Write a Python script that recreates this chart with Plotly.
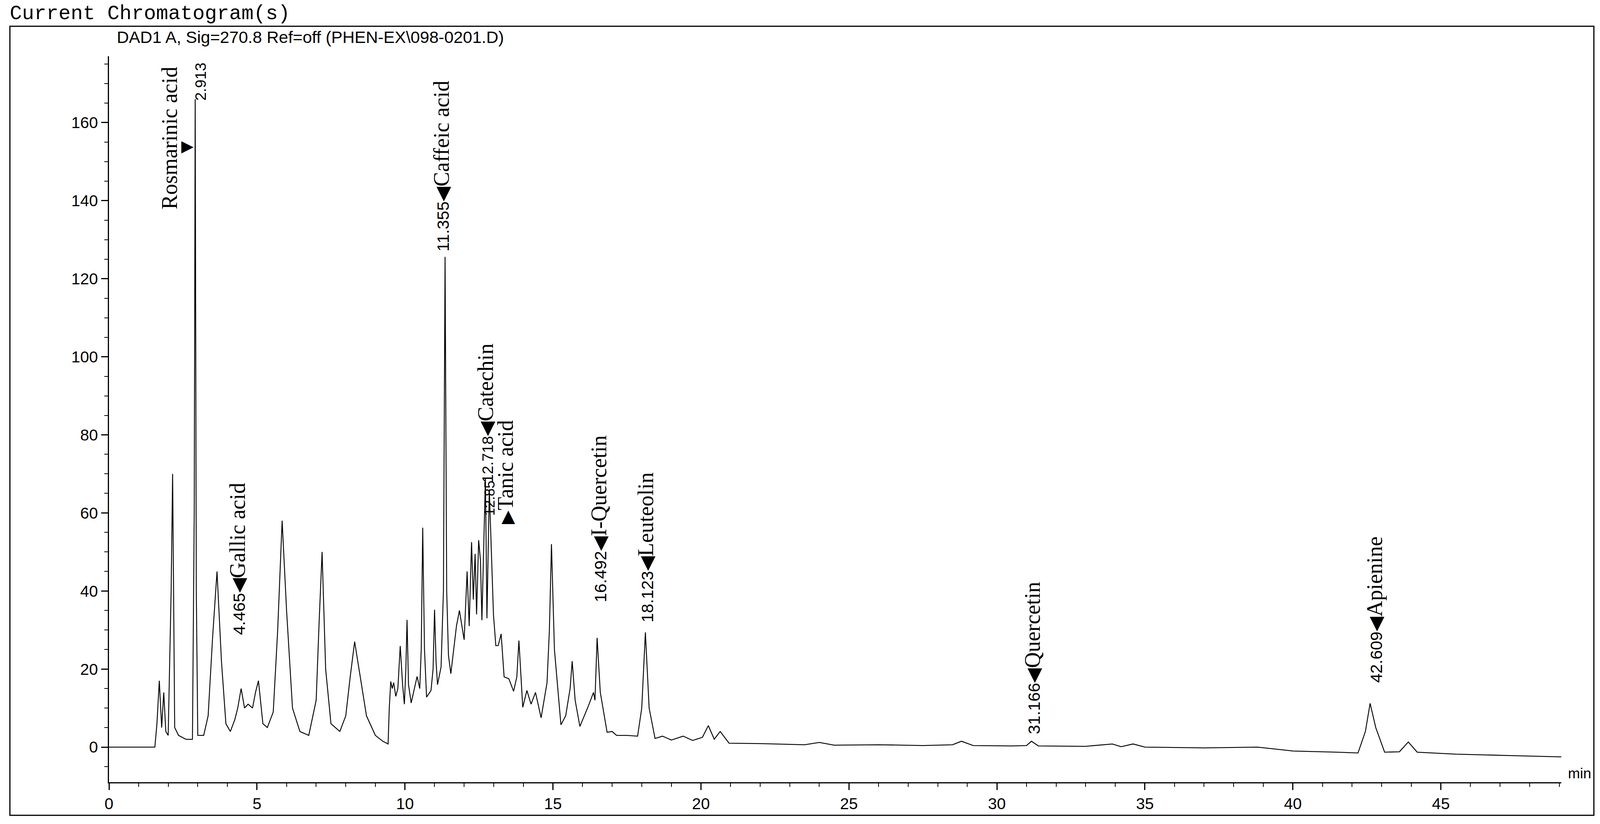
import plotly.graph_objects as go

# retention time (min) and absorbance (mAU)
time_min = [0, 1.55, 1.62, 1.7, 1.78, 1.85, 1.92, 2.0, 2.1, 2.15, 2.22, 2.35, 2.6, 2.82, 2.88, 2.913, 2.95, 3.0, 3.2, 3.35, 3.5, 3.65, 3.8, 3.95, 4.1, 4.25, 4.35, 4.465, 4.58, 4.7, 4.85, 4.95, 5.05, 5.2, 5.35, 5.55, 5.7, 5.85, 6.0, 6.2, 6.45, 6.75, 7.0, 7.1, 7.2, 7.32, 7.5, 7.8, 8.0, 8.15, 8.3, 8.45, 8.7, 9.0, 9.25, 9.43, 9.47, 9.52, 9.57, 9.62, 9.69, 9.76, 9.84, 9.92, 9.98, 10.03, 10.07, 10.12, 10.21, 10.41, 10.5, 10.55, 10.6, 10.66, 10.73, 10.88, 10.95, 11.0, 11.05, 11.1, 11.22, 11.3, 11.355, 11.41, 11.47, 11.55, 11.74, 11.84, 12.0, 12.1, 12.17, 12.25, 12.31, 12.37, 12.42, 12.49, 12.55, 12.6, 12.718, 12.77, 12.85, 12.99, 13.07, 13.15, 13.25, 13.35, 13.51, 13.67, 13.78, 13.85, 13.98, 14.12, 14.26, 14.41, 14.6, 14.8, 14.88, 14.95, 15.05, 15.27, 15.43, 15.58, 15.65, 15.75, 15.91, 16.19, 16.37, 16.42, 16.492, 16.6, 16.83, 17.0, 17.15, 17.5, 17.86, 18.0, 18.123, 18.25, 18.45, 18.7, 19.0, 19.4, 19.72, 20.05, 20.25, 20.45, 20.65, 20.95, 22.0, 23.5, 24.0, 24.5, 26.0, 27.5, 28.5, 28.8, 29.2, 30.5, 31.0, 31.166, 31.4, 33.0, 33.9, 34.2, 34.6, 35.0, 37.0, 38.8, 40.0, 41.5, 42.2, 42.45, 42.609, 42.8, 43.1, 43.6, 43.9, 44.2, 45.5, 47.5, 49.07]
absorbance = [0, 0, 6, 17, 5, 14, 4, 3, 40, 70, 5, 3, 2, 2, 60, 166, 40, 3, 3, 8, 28, 45, 22, 6, 4, 7, 10, 15, 10, 11, 10, 14, 17, 6, 5, 9, 30, 58, 35, 10, 4, 3, 12, 32, 50, 20, 6, 4, 8, 18, 27, 20, 8, 3, 1.5, 0.8, 10, 16.8, 15, 16.5, 13, 15, 25.9, 16, 11, 20, 32.6, 16, 11.3, 18.1, 15, 25, 56.2, 25, 12.8, 14.5, 20, 35.2, 22, 16, 20.5, 40, 125.6, 40, 23.5, 18.8, 31, 35, 27.5, 45, 31, 52.5, 37.8, 49.5, 34, 53, 48, 32.5, 69, 33, 66, 34, 26, 26, 29, 18, 17.5, 14.3, 18, 27.3, 10.2, 14.5, 11, 14, 7.5, 16.5, 30, 52, 25, 5.7, 8, 15, 22, 12, 5.3, 10.4, 14, 12, 28, 14, 3.8, 4, 3, 3, 2.8, 10, 29.4, 10, 2.2, 2.8, 1.8, 2.8, 1.7, 2.5, 5.5, 2, 4, 1, 0.9, 0.6, 1.2, 0.5, 0.6, 0.4, 0.6, 1.5, 0.4, 0.3, 0.4, 1.5, 0.3, 0.2, 0.8, 0.1, 0.8, 0, -0.2, 0, -1, -1.3, -1.5, 4, 11.2, 5, -1.3, -1.2, 1.3, -1.3, -1.8, -2.2, -2.5]

y_ticks = [0, 20, 40, 60, 80, 100, 120, 140, 160]
x_ticks = [0, 5, 10, 15, 20, 25, 30, 35, 40, 45]

# labels: (time, y-bottom, number, name)
labels = [
    (4.34, 28.5, "4.465", "Gallic acid"),
    (11.24, 126.8, "11.355", "Caffeic acid"),
    (16.55, 36.9, "16.492", "I-Quercetin"),
    (18.14, 31.8, "18.123", "Leuteolin"),
    (31.2, 3.1, "31.166", "Quercetin"),
    (42.76, 16.3, "42.609", "Apienine"),
]

S = 1 / 1.07  # page renders ~7% larger than requested; scale pixel sizes down
W, H = 4377, 2110
L, R, T, B = 299, 106, 154, 114
fig = go.Figure()
fig.add_trace(go.Scatter(x=time_min, y=absorbance, mode="lines",
                         line=dict(color="black", width=2.3), hoverinfo="skip"))

SANS = "Liberation Sans"
SERIF = "Liberation Serif"
def f(v): return round(v * S)
def num(s, size=46):
    return f'<span style="font-family:{SANS};font-size:{f(size)}px">{s}</span>'
def name(s, size=60):
    return f'<span style="font-family:{SERIF};font-size:{f(size)}px">{s}</span>'

pw, ph = W - L - R, H - T - B
def px(xo): return (xo - L) / pw
def py(yo): return 1 - (yo - T) / ph

ann = []
for t, yb, n, nm in labels:
    ann.append(dict(x=t, y=yb, text=num(n) + name("◀", 52) + name(nm),
                    textangle=-90, showarrow=False, xanchor="center", yanchor="bottom"))
ann += [
    dict(x=2.05, y=156, text=name("Rosmarinic acid"), textangle=-90, showarrow=False,
         xanchor="center", yanchor="middle"),
    dict(x=2.65, y=154, text=name("▶", 44), showarrow=False, xanchor="center", yanchor="middle"),
    dict(x=3.1, y=170.5, text=num("2.913", 42), textangle=-90, showarrow=False,
         xanchor="center", yanchor="middle"),
    dict(x=12.73, y=67.5, text=num("12.718", 42) + name("◀", 52) + name("Catechin"), textangle=-90,
         showarrow=False, xanchor="center", yanchor="bottom"),
    dict(x=12.86, y=68.5, text=num("12.85", 38), textangle=-90,
         showarrow=False, xanchor="center", yanchor="top"),
    dict(x=13.4, y=57, text=name("▶", 48) + name("Tanic acid"), textangle=-90,
         showarrow=False, xanchor="center", yanchor="bottom"),
    dict(x=px(25), y=py(78), xref="paper", yref="paper", text="Current Chromatogram(s)",
         showarrow=False, xanchor="left", yanchor="bottom",
         font=dict(family="Liberation Mono, DejaVu Sans Mono", size=f(56))),
    dict(x=px(318), y=py(105), xref="paper", yref="paper",
         text="DAD1 A, Sig=270.8 Ref=off (PHEN-EX\\098-0201.D)", showarrow=False,
         xanchor="left", yanchor="middle",
         font=dict(family="Liberation Sans Narrow, Liberation Sans", size=f(46))),
    dict(x=1.004, y=0.0, xref="paper", yref="paper", text="min", showarrow=False,
         xanchor="left", yanchor="bottom", font=dict(family=SANS, size=f(40))),
    dict(x=-0.9, y=172.5, text="mAU", showarrow=False,
         xanchor="right", yanchor="middle", font=dict(family=SANS, size=f(44))),
]

shapes = [dict(type="rect", xref="paper", yref="paper", x0=px(28), x1=px(4360),
               y0=py(2080), y1=py(78), line=dict(color="black", width=3))]

fig.update_layout(
    autosize=True, margin=dict(l=f(L), r=f(R), t=f(T), b=f(B)),
    paper_bgcolor="white", plot_bgcolor="white", showlegend=False,
    font=dict(color="black", family=SANS),
    annotations=ann, shapes=shapes,
    xaxis=dict(range=[0, 49.07], tickvals=x_ticks, ticks="outside", ticklen=f(18), tickwidth=2.5,
               showline=True, linecolor="black", linewidth=3, showgrid=False, zeroline=False,
               tickfont=dict(family=SANS, size=f(44), color="black"),
               minor=dict(dtick=1, ticks="outside", ticklen=f(10), tickwidth=2, tickcolor="black"),
               tickcolor="black"),
    yaxis=dict(range=[-9, 177], tickvals=y_ticks, ticks="outside", ticklen=f(18), tickwidth=2.5,
               showline=True, linecolor="black", linewidth=3, showgrid=False, zeroline=False,
               tickfont=dict(family=SANS, size=f(44), color="black"),
               minor=dict(dtick=5, ticks="outside", ticklen=f(10), tickwidth=2, tickcolor="black"),
               tickcolor="black"),
)
fig.write_html("out.html", default_width="100vw", default_height="100vh",
               config={"responsive": True, "displayModeBar": False},
               post_script="document.body.style.margin='0';document.body.style.overflow='hidden';")
